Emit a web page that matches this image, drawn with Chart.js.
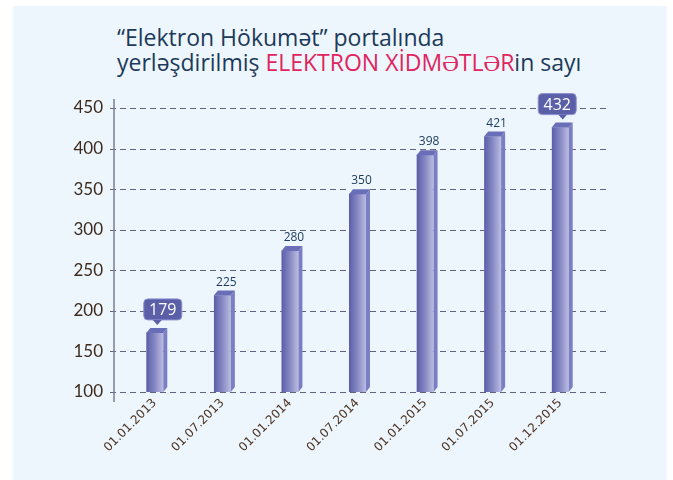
<!DOCTYPE html>
<html>
<head>
<meta charset="utf-8">
<script src="https://cdn.jsdelivr.net/npm/chart.js@4"></script>
<style>
    body { margin: 0; background: #fff; }
    #wrap { position: relative; width: 673px; height: 480px; }
    #panel { position: absolute; left: 13px; top: 6px; width: 654px; height: 474px; background: #eef6fd; }
    #title {
        position: absolute; left: 117px; top: 25px;
        font-family: "Open Sans"; font-size: 23px; line-height: 25px;
        color: #1c3a5a; white-space: nowrap;
    }
    #title .red { color: #e0245e; }
    canvas { position: absolute; left: 0; top: 0; }
</style>
</head>
<body>
<div id="wrap">
    <div id="panel"></div>
    <div id="title">“Elektron Hökumət” portalında<br>yerləşdirilmiş <span class="red">ELEKTRON XİDMƏTLƏR</span>in sayı</div>
    <canvas id="grafico" width="673" height="480"></canvas>
</div>
<script>
// Tarixlər və elektron xidmətlərin sayı
const tarixler = ["01.01.2013", "01.07.2013", "01.01.2014", "01.07.2014", "01.01.2015", "01.07.2015", "01.12.2015"];
const xidmetler = [179, 225, 280, 350, 398, 421, 432];
const yMin = 100, yMax = 450, yStep = 50;
const secililer = [0, 6]; // qutu içində göstərilən dəyərlər

const panelRengi = "#eef6fd";
const dx = 4, dy = 5;

// kəsikli xətlər, 3D üz və yazılar
const bezek = {
    id: "bezek",
    beforeDatasetsDraw(chart) {
        const { ctx, chartArea: a, scales: { y } } = chart;
        ctx.save();
        ctx.setLineDash([6, 4]);
        ctx.strokeStyle = "#63637f";
        ctx.lineWidth = 1;
        y.ticks.forEach((t) => {
            const py = Math.round(y.getPixelForValue(t.value)) + 0.5;
            ctx.beginPath();
            ctx.moveTo(a.left - 11, py);
            ctx.lineTo(a.right + 14, py);
            ctx.stroke();
        });
        ctx.setLineDash([]);
        ctx.strokeStyle = "#7d7d96";
        ctx.lineWidth = 1.5;
        ctx.beginPath();
        ctx.moveTo(a.left - 7, a.top - 9);
        ctx.lineTo(a.left - 7, a.bottom + 10);
        ctx.stroke();
        ctx.restore();
    },
    afterDatasetsDraw(chart) {
        const { ctx, chartArea: a } = chart;
        const meta = chart.getDatasetMeta(0);
        ctx.save();
        meta.data.forEach((bar, i) => {
            const x0 = bar.x - bar.width / 2, x1 = bar.x + bar.width / 2;
            const top = bar.y, base = Math.min(bar.base, a.bottom);
            // yan üz
            ctx.fillStyle = "#7a7ec4";
            ctx.beginPath();
            ctx.moveTo(x1, top + dy);
            ctx.lineTo(x1 + dx, top);
            ctx.lineTo(x1 + dx, base - dy);
            ctx.lineTo(x1, base);
            ctx.closePath();
            ctx.fill();
            // üst üz
            ctx.fillStyle = "#6a6eb8";
            ctx.beginPath();
            ctx.moveTo(x0, top + dy);
            ctx.lineTo(x0 + dx, top);
            ctx.lineTo(x1 + dx, top);
            ctx.lineTo(x1, top + dy);
            ctx.closePath();
            ctx.fill();

            const deger = String(xidmetler[i]);
            if (secililer.includes(i)) {
                const cx = bar.x + (i === 0 ? 8 : -3);
                const w = 38, h = 21, alt = top - 8;
                ctx.fillStyle = "#5b5fa8";
                ctx.strokeStyle = "#8c90d0";
                ctx.lineWidth = 1;
                ctx.beginPath();
                ctx.roundRect(cx - w / 2, alt - h, w, h, 4);
                ctx.fill();
                ctx.stroke();
                ctx.beginPath();
                ctx.moveTo(bar.x - 2, alt);
                ctx.lineTo(bar.x + 2.5, top - 3);
                ctx.lineTo(bar.x + 7, alt);
                ctx.closePath();
                ctx.fill();
                ctx.fillStyle = "#fff";
                ctx.font = '16px "Open Sans"';
                ctx.textAlign = "center";
                ctx.textBaseline = "middle";
                ctx.fillText(deger, cx, alt - h / 2 + 1);
            } else {
                ctx.fillStyle = "#1e3d60";
                ctx.font = '12px "Open Sans"';
                ctx.textAlign = "center";
                ctx.textBaseline = "alphabetic";
                ctx.fillText(deger, bar.x + 4, top - 5);
            }
        });
        ctx.restore();
    },
};

function renglenmis(c) {
    const chart = c.chart;
    if (!chart.chartArea || c.type !== "data") return "#7c7fc0";
    const x = chart.scales.x.getPixelForValue(c.dataIndex);
    const g = chart.ctx.createLinearGradient(x - 8.5, 0, x + 8.5, 0);
    g.addColorStop(0, "#5a5da6");
    g.addColorStop(0.5, "#8688c4");
    g.addColorStop(1, "#bcbde0");
    return g;
}

new Chart(document.getElementById("grafico").getContext("2d"), {
    type: "bar",
    data: {
        labels: tarixler,
        datasets: [
            {
                data: xidmetler,
                backgroundColor: renglenmis,
                borderColor: panelRengi,
                borderWidth: { top: dy, left: 0, right: 0, bottom: 0 },
                borderSkipped: "start",
                barThickness: 17,
            },
        ],
    },
    options: {
        responsive: false,
        animation: false,
        devicePixelRatio: 1,
        layout: { padding: { left: 0, top: 108, right: 79, bottom: 0 } },
        plugins: {
            legend: { display: false },
            tooltip: { enabled: false },
        },
        scales: {
            y: {
                min: yMin,
                max: yMax,
                afterFit: (s) => { s.width = 121; },
                grid: { display: false, drawTicks: false },
                border: { display: false },
                ticks: {
                    stepSize: yStep,
                    padding: 18,
                    color: "#3d2a1c",
                    font: { family: "Lato", size: 17 },
                },
            },
            x: {
                afterFit: (s) => { s.height = 88; },
                grid: { display: false, drawTicks: false },
                border: { display: false },
                ticks: {
                    autoSkip: false,
                    minRotation: 45,
                    maxRotation: 45,
                    padding: 4,
                    color: "#4b3322",
                    font: { family: "DejaVu Sans", size: 12 },
                },
            },
        },
    },
    plugins: [bezek],
});
</script>
</body>
</html>
